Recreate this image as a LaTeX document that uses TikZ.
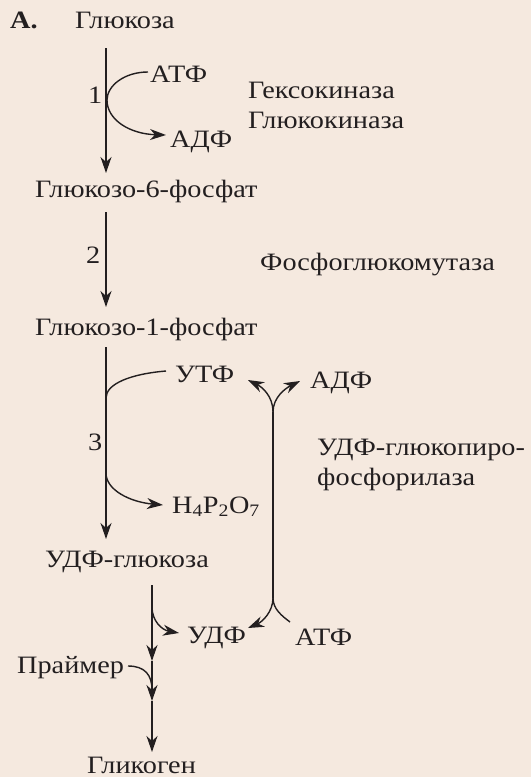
\documentclass[tikz,border=0pt]{standalone}
\usepackage{fontspec}
\setmainfont{Liberation Serif}[FakeStretch=1.13]
\usetikzlibrary{arrows.meta}
\definecolor{bg}{RGB}{245,233,223}
\definecolor{ink}{RGB}{35,31,32}
\begin{document}
\begin{tikzpicture}[x=1pt,y=-1pt,
  lbl/.style={anchor=base west,inner sep=0pt,text=ink,font=\fontsize{25}{29}\selectfont},
  ln/.style={draw=ink,line width=1.4pt},
  arr/.style={ln,-{Stealth[length=16pt,width=11pt,inset=5pt]}}]
\fill[bg] (0,0) rectangle (531,777);
\useasboundingbox (0,0) rectangle (531,777);
% labels
\node[lbl,font=\fontsize{25}{29}\selectfont\bfseries] (A) at (10,28) {А.};
\node[lbl] (glc) at (75,28) {Глюкоза};
\node[lbl] (atp1) at (150,82) {АТФ};
\node[lbl] (adp1) at (170,147) {АДФ};
\node[lbl] (n1) at (88,103) {1};
\node[lbl] (hk) at (248,98) {Гексокиназа};
\node[lbl] (gk) at (248,128) {Глюкокиназа};
\node[lbl] (g6p) at (35,197) {Глюкозо-6-фосфат};
\node[lbl] (n2) at (86,263) {2};
\node[lbl] (pgm) at (260,270) {Фосфоглюкомутаза};
\node[lbl] (g1p) at (35,335) {Глюкозо-1-фосфат};
\node[lbl] (utp) at (175,382) {УТФ};
\node[lbl] (n3) at (88,450) {3};
\node[lbl] (ppi) at (172,513) {H\textsubscript{4}P\textsubscript{2}O\textsubscript{7}};
\node[lbl] (adp2) at (310,388) {АДФ};
\node[lbl] (ugp1) at (317,455) {УДФ-глюкопиро-};
\node[lbl] (ugp2) at (317,485) {фосфорилаза};
\node[lbl] (udpg) at (45,567) {УДФ-глюкоза};
\node[lbl] (udp) at (187,643) {УДФ};
\node[lbl] (atp2) at (295,645) {АТФ};
\node[lbl] (primer) at (17,673) {Праймер};
\node[lbl] (glyc) at (87,773) {Гликоген};
% coordinates
\coordinate (a1s) at (106,48);
\coordinate (a1e) at (106,173);
\coordinate (c1s) at (148,72);
\coordinate (c1m) at (107,100);
\coordinate (c1e) at (166,135);
\coordinate (a2s) at (106,212);
\coordinate (a2e) at (106,307);
\coordinate (a3s) at (106,347);
\coordinate (a3e) at (106,539);
\coordinate (c3s) at (166,371);
\coordinate (c3m) at (106,398);
\coordinate (c3n) at (106,473);
\coordinate (c3e) at (163,505);
\coordinate (rf1) at (273,412);
\coordinate (rf2) at (273,598);
\coordinate (rl) at (248,380);
\coordinate (rr) at (300,381);
\coordinate (bl) at (248,628);
\coordinate (br) at (290,622);
\coordinate (b0) at (152,585);
\coordinate (b1) at (152,661);
\coordinate (b2) at (152,701);
\coordinate (b3) at (152,752);
\coordinate (bu) at (152,607);
\coordinate (bue) at (179,633);
\coordinate (bps) at (128,666);
\coordinate (bpe) at (152,690);
% main arrows
\draw[arr] (a1s) -- (a1e);
\draw[arr] (c1s) .. controls (124,72) and (107,86) .. (c1m) .. controls (107,120) and (130,134) .. (c1e);
\draw[arr] (a2s) -- (a2e);
\draw[arr] (a3s) -- (a3e);
\draw[ln] (c3s) .. controls (130,374) and (106,384) .. (c3m);
\draw[arr] (c3n) .. controls (106,490) and (130,502) .. (c3e);
% right fork
\draw[ln] (rf1) -- (rf2);
\draw[arr] (rf1) .. controls (273,396) and (262,387) .. (rl);
\draw[arr] (rf1) .. controls (273,397) and (286,388) .. (rr);
\draw[arr] (rf2) .. controls (273,612) and (262,622) .. (bl);
\draw[ln] (rf2) .. controls (273,609) and (282,616) .. (br);
% bottom
\draw[arr] (b0) -- (b1);
\draw[arr] (b1) -- (b2);
\draw[arr] (b2) -- (b3);
\draw[arr] (bu) .. controls (152,621) and (162,630) .. (bue);
\draw[ln] (bps) .. controls (145,666) and (152,675) .. (bpe);
\end{tikzpicture}
\end{document}
